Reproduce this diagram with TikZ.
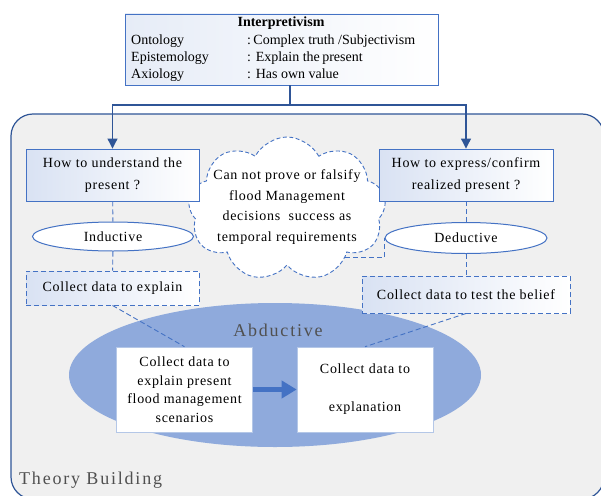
\documentclass[tikz,border=0pt]{standalone}
\usepackage{fontspec}
\setmainfont{Liberation Serif}
\newfontfamily\spacedfont{Liberation Serif}[LetterSpace=5]
\newfontfamily\widefont{Liberation Serif}[LetterSpace=10]
\usetikzlibrary{arrows.meta,shapes.geometric,shapes.symbols}

\definecolor{frameblue}{HTML}{2F5597}
\definecolor{edgeblue}{HTML}{4472C4}
\definecolor{tint}{HTML}{D9E2F3}
\definecolor{softtint}{HTML}{E6ECF7}
\definecolor{panel}{HTML}{F0F0F0}
\definecolor{abfill}{HTML}{8FAADC}
\definecolor{labelgray}{HTML}{505050}
\definecolor{paleedge}{HTML}{B4C7E7}

\tikzset{
  qbox/.style={draw=edgeblue, line width=0.9pt, left color=tint, right color=white,
    inner sep=0pt, align=center, font=\spacedfont\fontsize{14}{22}\selectfont},
  dbox/.style={qbox, dash pattern=on 5pt off 3pt},
  oval/.style={ellipse, draw=edgeblue, line width=1pt, fill=white, inner sep=0pt,
    font=\spacedfont\fontsize{14}{18}\selectfont},
  wbox/.style={draw=paleedge, line width=0.6pt, fill=white, inner sep=0pt, align=center,
    font=\spacedfont\fontsize{14}{18.5}\selectfont},
  link/.style={draw=edgeblue, line width=0.9pt, dash pattern=on 5pt off 3pt},
  feed/.style={draw=frameblue, line width=1.1pt},
  tip/.style={-{Triangle[length=10pt,width=10pt]}},
  rowtext/.style={anchor=base west, inner sep=0pt, font=\fontsize{14}{16}\selectfont},
  biglabel/.style={text=labelgray, inner sep=0pt, font=\widefont\fontsize{18}{20}\selectfont}
}

\begin{document}
\begin{tikzpicture}[x=1pt,y=-1pt]
\useasboundingbox (0,0) rectangle (601,495);
\clip (0,0) rectangle (601,495);
\fill[white] (0,0) rectangle (601,495);

% theory-building panel
\draw[frameblue, line width=1.2pt, fill=panel, rounded corners=22pt] (11,114) rectangle (604,499);

% abductive region
\node[ellipse, fill=abfill, minimum width=412pt, minimum height=144pt, inner sep=0pt] (abd) at (275,375) {};
\node[biglabel] (abdlabel) at (278,330) {Abductive};
\node[biglabel, anchor=west] (tb) at (19,480) {Theory Building};

% thought cloud
\node[cloud, cloud puffs=9, cloud puff arc=125, aspect=1.35, draw=edgeblue, fill=white,
  line width=0.9pt, dash pattern=on 4pt off 2.5pt, minimum width=198pt, minimum height=144pt,
  inner sep=0pt] (doubt) at (287,209) {};
\node[align=center, inner sep=0pt, font=\spacedfont\fontsize{14}{20.5}\selectfont] (doubttext) at (287,207)
  {Can not prove or falsify\\flood Management\\decisions\ \ success as\\temporal requirements};

% paradigm box
\node[draw=edgeblue, line width=0.9pt, left color=softtint, right color=white,
  minimum width=313pt, minimum height=71pt, inner sep=0pt] (paradigm) at (281.5,49.5) {};
\node[inner sep=0pt, font=\bfseries\fontsize{14}{16}\selectfont] (ptitle) at (281,23) {Interpretivism};
\node[rowtext] (onto) at (131,45) {Ontology};
\node[rowtext] (epis) at (131,61.5) {Epistemology};
\node[rowtext] (axio) at (131,78) {Axiology};
\node[rowtext] (ontov) at (247,45) {:\,Complex truth /Subjectivism};
\node[rowtext] (episv) at (247,61.5) {: Explain the\,present};
\node[rowtext] (axiov) at (247,78) {: Has own value};

% question boxes and approaches
\node[qbox, minimum width=173pt, minimum height=52pt] (under) at (112.5,175) {How to understand the\\present ?};
\node[qbox, minimum width=174pt, minimum height=52pt] (exprs) at (466,175) {How to express/confirm\\realized present ?};
\node[oval, minimum width=161pt, minimum height=29pt] (ind) at (113,236.5) {Inductive};
\node[oval, minimum width=162pt, minimum height=31pt] (ded) at (466,238) {Deductive};
\node[dbox, minimum width=173pt, minimum height=34pt] (colexp) at (112.5,288) {Collect data to explain};
\node[dbox, minimum width=208pt, minimum height=37pt] (coltest) at (466,294.5) {Collect data to test the belief};

% abductive steps
\node[wbox, minimum width=136pt, minimum height=85pt] (scen) at (184.5,389.5)
  {Collect data to\\explain present\\flood management\\scenarios};
\node[wbox, minimum width=136pt, minimum height=85pt] (expl) at (365,389.5)
  {Collect data to\\[19.5pt]explanation};
\draw[edgeblue, line width=5pt, -{Triangle[length=15pt,width=17pt]}] (scen.east) -- (expl.west);

% paradigm feeds both questions
\coordinate (fork) at (290,105);
\draw[feed] (paradigm.south -| fork) -- (fork);
\draw[feed, tip] (fork) -| (under.north);
\draw[feed, tip] (fork) -| (exprs.north);

% dashed relations
\draw[link] (under) -- (ind);
\draw[link] (ind) -- (colexp);
\draw[link] (exprs) -- (ded);
\draw[link] (ded) -- (coltest);
\draw[link] (colexp.south) -- (scen.north);
\draw[link] (coltest.south) -- (expl.north);
\draw[link] (doubt.-40) -| (ded.west);
\end{tikzpicture}
\end{document}
